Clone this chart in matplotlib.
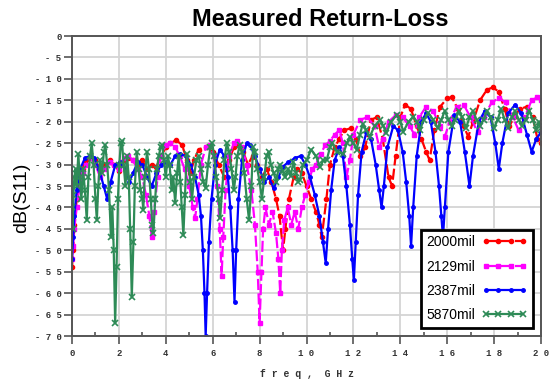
import numpy as np
from matplotlib import pyplot as plt

# values (freq in GHz, return loss in dB)
f_2000 = [0.00, 0.05, 0.10, 0.20, 0.30, 0.45, 0.60, 0.80, 1.00, 1.20, 1.40, 1.60, 1.80, 2.00,
          2.20, 2.40, 2.60, 2.80, 3.00, 3.20, 3.40, 3.60, 3.80, 4.00, 4.20, 4.45, 4.70, 4.90,
          5.05, 5.20, 5.40, 5.70, 6.00, 6.25, 6.50, 6.70, 6.90, 7.10, 7.30, 7.50, 7.70, 7.90,
          8.10, 8.30, 8.50, 8.70, 8.85, 9.00, 9.10, 9.25, 9.45, 9.60, 9.80, 10.00, 10.20, 10.40,
          10.55, 10.65, 10.85, 11.00, 11.20, 11.40, 11.60, 11.90, 12.10, 12.30, 12.50, 12.75,
          13.00, 13.25, 13.50, 13.65, 13.80, 14.00, 14.20, 14.45, 14.70, 14.90, 15.10, 15.25,
          15.45, 15.70, 16.00, 16.20, 16.45, 16.70, 16.90, 17.10, 17.40, 17.70, 17.95, 18.20,
          18.45, 18.65, 18.85, 19.10, 19.40, 19.65, 19.85, 20.00]
db_2000 = [-54, -50, -44, -38, -34, -31, -29, -28.5, -29, -31, -30, -29, -30, -31.5,
           -29, -28.5, -29, -30.5, -29, -31, -30, -30.5, -28, -26, -25, -24.3, -25.5, -29,
           -32, -29, -26.5, -25.8, -27, -30, -33, -29, -26, -25.2, -27, -30, -28, -30,
           -33, -31, -34, -38, -42, -50, -45, -38, -33, -31, -32, -35, -38, -41,
           -44, -47, -38, -30, -26, -24, -22, -21.5, -24, -28, -26, -19.5,
           -19, -24, -33, -35, -28, -19, -16, -17, -21, -24, -27, -29,
           -22, -16.5, -14.5, -14.3, -17, -21, -23.5, -20, -15, -12.5, -12, -13,
           -17, -21, -19, -17, -16.5, -19, -24, -25]

f_2129 = [0.00, 0.05, 0.10, 0.20, 0.30, 0.45, 0.60, 0.80, 1.00, 1.20, 1.40, 1.60, 1.80, 2.00,
          2.20, 2.40, 2.60, 2.80, 3.00, 3.15, 3.30, 3.40, 3.50, 3.65, 3.80, 4.00, 4.20, 4.40,
          4.60, 4.80, 5.00, 5.15, 5.25, 5.35, 5.50, 5.70, 5.90, 6.05, 6.20, 6.30, 6.38, 6.45,
          6.55, 6.70, 6.90, 7.05, 7.25, 7.45, 7.65, 7.80, 7.92, 8.00, 8.08, 8.15, 8.25, 8.40,
          8.55, 8.70, 8.80, 8.88, 8.95, 9.05, 9.20, 9.35, 9.50, 9.65, 9.80, 9.95, 10.10, 10.25,
          10.40, 10.60, 10.80, 11.00, 11.20, 11.40, 11.55, 11.70, 11.85, 12.00, 12.30, 12.60,
          12.90, 13.10, 13.25, 13.50, 13.80, 14.10, 14.40, 14.60, 14.80, 15.10, 15.40, 15.70,
          15.90, 16.10, 16.40, 16.70, 17.00, 17.30, 17.55, 17.90, 18.20, 18.50, 18.80, 19.05,
          19.30, 19.60, 19.85, 20.00]
db_2129 = [-52, -49, -45, -40, -36, -32, -30, -28.5, -30, -33, -31, -29.5, -30, -31,
           -28.5, -28, -29, -31, -33, -37, -42, -47, -41, -33, -28, -25.5, -25, -26,
           -28, -31, -35, -40, -42.5, -38, -30, -26, -25.5, -28, -35, -45, -56, -47,
           -36, -28, -25, -24.5, -26, -30, -36, -44, -55, -67, -55, -45, -40, -44,
           -41, -46, -52, -60, -50, -43, -40, -44, -41, -45, -40, -37, -34, -31,
           -30, -27.5, -25.5, -24.5, -23, -22, -25, -33, -29, -23, -19.5, -19,
           -21, -26, -24, -20, -18.5, -19, -21, -23, -19, -16.5, -17.5, -21,
           -23.5, -20, -16.5, -16, -19, -22.5, -19, -15.5, -14.5, -15.5, -19, -22,
           -19, -15, -14.3, -15]

f_2387 = [0.00, 0.05, 0.10, 0.20, 0.35, 0.55, 0.75, 0.95, 1.15, 1.35, 1.50, 1.65, 1.85, 2.05,
          2.25, 2.45, 2.60, 2.80, 3.00, 3.20, 3.40, 3.60, 3.80, 4.00, 4.20, 4.40, 4.60, 4.85,
          5.05, 5.25, 5.40, 5.50, 5.58, 5.65, 5.70, 5.76, 5.84, 5.95, 6.10, 6.30, 6.50, 6.65,
          6.75, 6.85, 6.93, 7.00, 7.10, 7.25, 7.45, 7.60, 7.80, 8.00, 8.20, 8.40, 8.60, 8.80,
          9.00, 9.20, 9.50, 9.75, 9.95, 10.15, 10.35, 10.55, 10.70, 10.82, 10.92, 11.05, 11.20,
          11.40, 11.55, 11.70, 11.85, 11.95, 12.02, 12.10, 12.20, 12.35, 12.55, 12.75, 12.95,
          13.10, 13.20, 13.30, 13.45, 13.70, 13.90, 14.10, 14.25, 14.38, 14.46, 14.55, 14.70,
          14.90, 15.10, 15.30, 15.50, 15.65, 15.75, 15.82, 15.90, 16.05, 16.30, 16.55, 16.75,
          16.95, 17.10, 17.35, 17.60, 17.85, 18.05, 18.20, 18.35, 18.60, 18.90, 19.15, 19.40,
          19.60, 19.80, 20.00]
db_2387 = [-52, -47, -42, -36, -31, -28.5, -28, -28.5, -31, -35, -38, -34, -30, -29.5,
           -31, -34, -32, -29.5, -30, -33, -35, -32, -30, -29.5, -30, -28, -27.5, -28,
           -30, -33, -37, -42, -50, -60, -70, -60, -48, -38, -30, -26.5, -28, -33,
           -40, -50, -62, -50, -38, -29, -25, -25.5, -28, -31, -34, -33, -35.5, -33,
           -30.5, -29.5, -28.5, -28, -30, -33, -37, -42, -48, -53, -45, -36, -29,
           -26, -28, -35, -44, -52, -57, -48, -37, -27, -22.5, -24, -30,
           -36, -40, -35, -26, -21, -22, -27, -34, -42, -49, -40, -28,
           -20, -18, -20, -27, -35, -42, -47, -40, -27, -18.5, -20, -27,
           -35, -28, -20, -17.5, -19, -25, -31, -25, -18, -16, -18, -23,
           -27, -24, -22.5]

f_5870 = [0.00, 0.03, 0.06, 0.10, 0.15, 0.20, 0.27, 0.33, 0.40, 0.47, 0.55, 0.63, 0.70, 0.77,
          0.84, 0.92, 1.00, 1.06, 1.12, 1.20, 1.28, 1.36, 1.42, 1.50, 1.58, 1.66, 1.72, 1.78,
          1.84, 1.90, 1.96, 2.02, 2.08, 2.13, 2.20, 2.28, 2.35, 2.42, 2.48, 2.55, 2.62, 2.68,
          2.76, 2.84, 2.92, 3.00, 3.04, 3.10, 3.20, 3.28, 3.36, 3.42, 3.47, 3.55, 3.62, 3.70,
          3.78, 3.85, 3.92, 4.00, 4.08, 4.16, 4.25, 4.32, 4.40, 4.48, 4.55, 4.62, 4.68, 4.75,
          4.82, 4.89, 4.96, 5.05, 5.12, 5.20, 5.30, 5.40, 5.50, 5.60, 5.70, 5.80, 5.90, 5.98,
          6.06, 6.15, 6.25, 6.32, 6.40, 6.50, 6.60, 6.70, 6.80, 6.90, 6.97, 7.05, 7.15, 7.25,
          7.35, 7.45, 7.55, 7.65, 7.72, 7.80, 7.90, 8.00, 8.10, 8.20, 8.30, 8.38, 8.48, 8.60,
          8.72, 8.80, 8.88, 8.98, 9.10, 9.22, 9.32, 9.44, 9.55, 9.65, 9.72, 9.85, 10.00, 10.20,
          10.40, 10.58, 10.72, 10.86, 11.00, 11.10, 11.30, 11.57, 11.72, 11.86, 12.00, 12.14,
          12.28, 12.40, 12.55, 12.70, 12.90, 13.14, 13.28, 13.40, 13.60, 13.85, 14.00, 14.13,
          14.35, 14.56, 14.70, 14.84, 15.00, 15.20, 15.40, 15.60, 15.75, 15.90, 16.05, 16.20,
          16.35, 16.50, 16.65, 16.80, 16.95, 17.10, 17.25, 17.40, 17.55, 17.70, 17.85, 18.00,
          18.15, 18.30, 18.45, 18.60, 18.75, 18.90, 19.05, 19.20, 19.35, 19.50, 19.65, 19.80,
          19.90, 20.00]
db_5870 = [-40, -45, -37, -33, -31, -35, -27.5, -33, -38, -31, -36, -43, -33, -28,
           -25, -30, -38, -43, -35, -29, -32, -27, -25.5, -30, -36, -47, -40, -50,
           -67, -54, -38, -30, -25, -24.5, -30, -35, -28, -33, -45, -61, -48, -35,
           -27, -31, -36, -38, -40.5, -33, -27, -31, -38, -44, -46, -38, -31, -28,
           -26, -25.5, -29, -33, -28, -30, -36, -33, -39, -32, -28, -34, -40, -46.5,
           -37, -27.5, -30, -34, -38, -33, -29, -28, -31, -34, -35.5, -30, -26, -25,
           -28, -33, -38, -42.5, -36, -29, -25, -27, -31, -36, -33, -28, -25.5, -27,
           -32, -38, -43, -35, -26, -27, -31, -34, -38, -33, -28, -27, -30, -32,
           -34, -31, -30, -31.5, -33, -31, -32.7, -29.5, -32, -34, -33.5, -30, -29, -26.5,
           -28, -30.5, -29, -29, -26, -25, -27, -27.5, -25, -23.5, -25, -26.5,
           -23, -20.5, -22, -23.5, -21, -19.6, -21, -22.7, -20, -18.4, -20, -22.3,
           -20, -18.8, -20, -21.9, -19.5, -18, -19.5, -21.5, -19.5, -17.5, -19.5, -21,
           -19.5, -17.5, -19, -21.5, -19, -17.5, -19.5, -21, -19.5, -17.5, -19, -21.5,
           -19.5, -17, -19.5, -21.5, -19, -17.5, -19.5, -21, -19.5, -17.5, -19.5, -22,
           -20, -21.5]

labels = ["2000mil", "2129mil", "2387mil", "5870mil"]
colors = ["#ff0000", "#ff00ff", "#0000ff", "#2e8b57"]

yticks = list(range(0, -75, -5))
xticks = list(range(0, 22, 2))


def spaced(v):
    s = " ".join(str(abs(v)))
    return "- " + s if v < 0 else s


def main():
    fig = plt.figure(figsize=(5.56, 3.81), dpi=100)
    ax = fig.add_axes([72 / 556, 1 - 336 / 381, 469 / 556, 300 / 381])

    ax.plot(f_2000, db_2000, "--", color=colors[0], lw=1.6, dashes=(5, 1.5),
            marker="o", ms=3, label=labels[0])
    ax.plot(f_2129, db_2129, "--", color=colors[1], lw=1.6, dashes=(5, 1.5),
            marker="s", ms=3, label=labels[1])
    ax.plot(f_2387, db_2387, "-", color=colors[2], lw=1.6,
            marker="o", ms=2.5, label=labels[2])
    ax.plot(f_5870, db_5870, "-", color=colors[3], lw=1.6,
            marker="x", ms=4, mew=1.2, label=labels[3])

    ax.set_xlim(0, 20)
    ax.set_ylim(-70, 0)
    ax.set_xticks(xticks)
    ax.set_xticklabels([spaced(v) for v in xticks])
    ax.set_xticks(list(range(1, 20, 2)), minor=True)
    ax.set_yticks(yticks)
    ax.set_yticklabels([spaced(v) for v in yticks])

    for t in ax.get_xticklabels() + ax.get_yticklabels():
        t.set_fontfamily("Liberation Mono")
        t.set_fontweight("bold")
        t.set_fontsize(6.5)
        t.set_color("#333333")

    ax.tick_params(axis="x", which="major", direction="out", length=6, width=1.2,
                   color="#555555", pad=3)
    ax.tick_params(axis="x", which="minor", direction="in", length=3, width=1.2,
                   color="#555555")
    ax.tick_params(axis="y", which="major", direction="out", length=6, width=1.2,
                   color="#555555", pad=1.5)

    ax.grid(True, which="major", color="#d4d4d4", lw=1.3)
    ax.set_axisbelow(True)
    for sp in ax.spines.values():
        sp.set_color("#555555")
        sp.set_linewidth(1.4)

    ax.set_xlabel("f r e q ,  G H z", family="Liberation Mono", weight="bold",
                  size=7, color="#333333", labelpad=8)
    fig.text(22 / 556, 1 - 198 / 381, "dB(S11)", rotation=90, ha="center",
             va="center", family="Liberation Sans", size=14)
    fig.text(320 / 556, 1 - 20 / 381, "Measured Return-Loss", ha="center",
             va="center", family="Liberation Sans", weight="bold", size=17)

    leg = ax.legend(loc="lower right", bbox_to_anchor=(0.983, 0.027),
                    borderaxespad=0, markerfirst=False, numpoints=4,
                    handlelength=3.3, handletextpad=0.45, labelspacing=0.75,
                    fancybox=False, framealpha=1, edgecolor="black",
                    prop=dict(family="Liberation Sans", size=10))
    leg.get_frame().set_linewidth(2)

    fig.savefig("out.png", dpi=100)


if __name__ == "__main__":
    main()
